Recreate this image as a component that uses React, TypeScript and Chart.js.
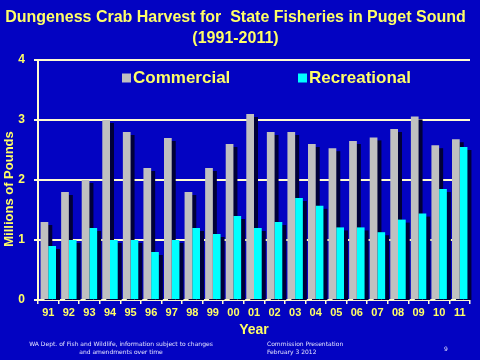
import React, { useEffect, useRef } from "react";
import { Chart, registerables } from "chart.js";

Chart.register(...registerables);

const years = ["91", "92", "93", "94", "95", "96", "97", "98", "99", "00", "01", "02", "03", "04", "05", "06", "07", "08", "09", "10", "11"];
const commercial = [1.3, 1.8, 2.0, 3.0, 2.8, 2.2, 2.7, 1.8, 2.2, 2.6, 3.1, 2.8, 2.8, 2.6, 2.53, 2.65, 2.71, 2.85, 3.06, 2.58, 2.68];
const recreational = [0.9, 1.0, 1.2, 1.0, 1.0, 0.8, 1.0, 1.2, 1.1, 1.4, 1.2, 1.3, 1.7, 1.57, 1.21, 1.21, 1.13, 1.34, 1.44, 1.85, 2.55];
const titleLines = ["Dungeness Crab Harvest for  State Fisheries in Puget Sound", "(1991-2011)"];
const yTitle = "Millions of Pounds";
const xTitle = "Year";

const BG = "#0303c2";
const YELLOW = "#ffff66";
const GRID = "#fffbd0";
const GRAY = "#c0c0c0";
const CYAN = "#00ffff";
const SHADOW = "#000038";
const FONT = "'Liberation Sans', Arial, sans-serif";

// Dark drop-shadow behind every bar (positions taken from the Chart.js bar elements)
const shadowPlugin = {
  id: "barShadow",
  beforeDatasetsDraw(chart: any) {
    const ctx = chart.ctx;
    const area = chart.chartArea;
    ctx.save();
    ctx.beginPath();
    ctx.rect(area.left, area.top, area.right - area.left + 6, area.bottom - area.top);
    ctx.clip();
    ctx.fillStyle = SHADOW;
    chart.data.datasets.forEach((_: any, di: number) => {
      const meta = chart.getDatasetMeta(di);
      meta.data.forEach((bar: any) => {
        const { x, y, base, width } = bar.getProps(["x", "y", "base", "width"], true);
        const left = x - width / 2 + 4;
        const top = Math.min(y, base) + 3;
        ctx.fillRect(left, top, width, Math.abs(base - y));
      });
    });
    ctx.restore();
  },
};

// Legend inside the plot area and the rotated y-axis title
const decorPlugin = {
  id: "decor",
  afterDraw(chart: any) {
    const ctx = chart.ctx;
    const area = chart.chartArea;
    const offsets = [84, 260];
    ctx.save();
    ctx.font = `bold 17px ${FONT}`;
    ctx.textBaseline = "middle";
    ctx.textAlign = "left";
    chart.data.datasets.forEach((ds: any, i: number) => {
      const x = area.left + offsets[i];
      const y = area.top + 18;
      ctx.fillStyle = ds.backgroundColor;
      ctx.fillRect(x, y - 4.5, 9, 9);
      ctx.fillStyle = YELLOW;
      ctx.fillText(ds.label, x + 11, y);
    });
    ctx.translate(9, (area.top + area.bottom) / 2 + 9);
    ctx.rotate(-Math.PI / 2);
    ctx.textAlign = "center";
    ctx.font = `bold 13px ${FONT}`;
    ctx.fillStyle = YELLOW;
    ctx.fillText(yTitle, 0, 0);
    ctx.restore();
  },
};

export default function App() {
  const ref = useRef<HTMLCanvasElement>(null);
  useEffect(() => {
    const chart = new Chart(ref.current!, {
      type: "bar",
      data: {
        labels: years,
        datasets: [
          { label: "Commercial", data: commercial, backgroundColor: GRAY, borderWidth: 0 },
          { label: "Recreational", data: recreational, backgroundColor: CYAN, borderWidth: 0 },
        ],
      },
      options: {
        responsive: false,
        animation: false,
        events: [],
        layout: { padding: { left: 1, right: 10, top: 0, bottom: 22 } },
        datasets: { bar: { categoryPercentage: 0.75, barPercentage: 1.0 } },
        plugins: {
          legend: { display: false },
          tooltip: { enabled: false },
          title: {
            display: true,
            text: titleLines,
            color: YELLOW,
            font: { family: FONT, size: 16, weight: "bold", lineHeight: 1.3 },
            padding: { top: 7, bottom: 11.4 },
          },
        },
        scales: {
          x: {
            afterFit: (s: any) => { s.height = 38; },
            grid: { drawOnChartArea: false, drawTicks: true, tickLength: 4, color: GRID, lineWidth: 1.5 },
            border: { display: true, color: GRID, width: 2 },
            ticks: { color: YELLOW, font: { family: FONT, size: 11, weight: "bold" }, padding: 2, maxRotation: 0, autoSkip: false },
            title: { display: true, text: xTitle, color: YELLOW, font: { family: FONT, size: 14, weight: "bold" }, padding: { top: 0, bottom: -1 } },
          },
          y: {
            min: 0,
            max: 4,
            afterFit: (s: any) => { s.width = 37; },
            grid: { color: GRID, lineWidth: 2, tickLength: 4, drawTicks: true },
            border: { display: true, color: GRID, width: 2 },
            ticks: { stepSize: 1, color: YELLOW, font: { family: FONT, size: 12, weight: "bold" }, padding: 9 },
            title: { display: false, text: yTitle },
          },
        },
      },
      plugins: [shadowPlugin, decorPlugin],
    });
    return () => chart.destroy();
  }, []);

  const foot: React.CSSProperties = {
    position: "absolute",
    fontFamily: "'DejaVu Sans', sans-serif",
    fontSize: 6,
    lineHeight: "8px",
    color: "#e4e4ff",
    whiteSpace: "nowrap",
  };

  return (
    <div style={{ position: "fixed", left: 0, top: 0, width: 480, height: 360, background: BG, overflow: "hidden" }}>
      <canvas ref={ref} width={480} height={360} style={{ position: "absolute", left: 0, top: 0 }} />
      <div style={{ ...foot, left: 0, width: 242, top: 340, textAlign: "center" }}>
        WA Dept. of Fish and Wildlife, information subject to changes
        <br />
        and amendments over time
      </div>
      <div style={{ ...foot, left: 267, top: 340, textAlign: "left" }}>
        Commission Presentation
        <br />
        February 3 2012
      </div>
      <div style={{ ...foot, left: 444, top: 345 }}>9</div>
    </div>
  );
}
